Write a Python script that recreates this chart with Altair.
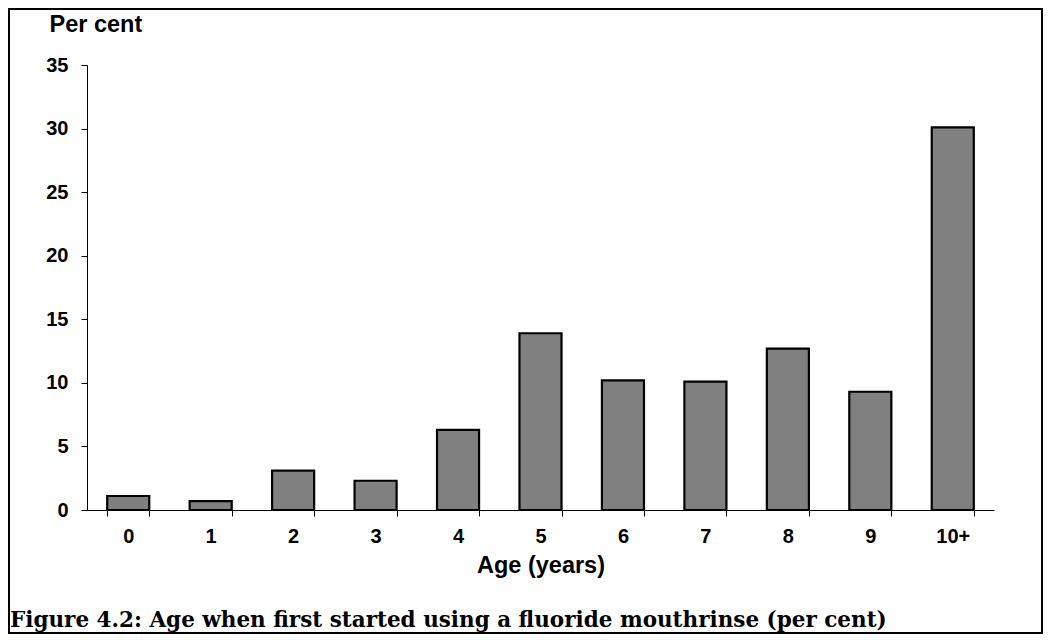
import altair as alt
import pandas as pd

ages = ["0", "1", "2", "3", "4", "5", "6", "7", "8", "9", "10+"]
percent = [1.1, 0.7, 3.1, 2.3, 6.3, 13.9, 10.2, 10.1, 12.7, 9.3, 30.1]
y_ticks = [0, 5, 10, 15, 20, 25, 30, 35]
caption = "Figure 4.2: Age when first started using a fluoride mouthrinse (per cent)"

df = pd.DataFrame({"Age": ages, "Percent": percent})

bars = alt.Chart(df).mark_bar(fill="#808080", stroke="black", strokeWidth=2.2).encode(
    x=alt.X(
        "Age:N",
        sort=ages,
        scale=alt.Scale(paddingInner=0.49, paddingOuter=0.245),
        axis=alt.Axis(
            title="Age (years)",
            labelAngle=0,
            tickBand="extent",
            tickSize=6,
            labelBaseline="alphabetic",
            labelPadding=26,
            titleBaseline="alphabetic",
            titleY=62,
            titleFontSize=23.5,
        ),
    ),
    y=alt.Y(
        "Percent:Q",
        scale=alt.Scale(domain=[0, 35], nice=False),
        axis=alt.Axis(
            values=y_ticks,
            title="Per cent",
            titleAngle=0,
            titleAlign="left",
            titleBaseline="middle",
            titleX=-38,
            titleY=-41,
            titleFontSize=23.5,
            tickSize=6,
            labelPadding=13,
            grid=False,
        ),
    ),
)

border = alt.Chart(pd.DataFrame({"k": [0]})).mark_rect(
    filled=False, stroke="black", strokeWidth=2
).encode(
    x=alt.value(-78), x2=alt.value(955), y=alt.value(-56), y2=alt.value(568)
)

cap = alt.Chart(pd.DataFrame({"t": [caption]})).mark_text(
    font="DejaVu Serif", fontWeight="bold", fontSize=21.5,
    align="left", baseline="alphabetic", color="black"
).encode(
    x=alt.value(-77), y=alt.value(562), text="t:N"
)

chart = alt.layer(border, bars, cap).properties(
    width=907,
    height=445,
    autosize="none",
    padding={"left": 79, "top": 57, "right": 49, "bottom": 124},
    background="white",
).configure_view(stroke=None).configure_axis(
    domainColor="black",
    domainWidth=1,
    tickColor="black",
    labelColor="black",
    titleColor="black",
    labelFont="Liberation Sans",
    titleFont="Liberation Sans",
    labelFontWeight="bold",
    titleFontWeight="bold",
    labelFontSize=20,
    grid=False,
)

chart.save("out.html", embed_options={"renderer": "svg", "actions": False})
